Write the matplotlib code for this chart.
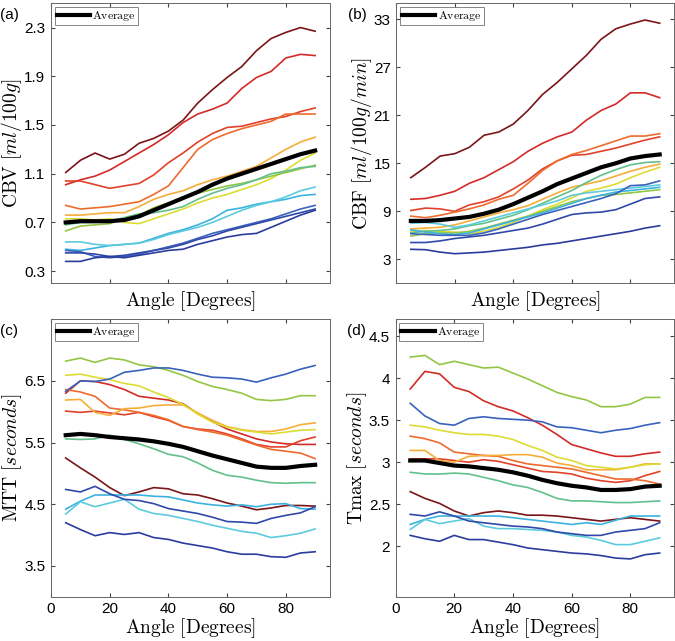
import numpy as np
import matplotlib
matplotlib.use("Agg")
import matplotlib.pyplot as plt

plt.rcParams["mathtext.fontset"] = "cm"
plt.rcParams["font.family"] = ["Liberation Sans", "DejaVu Sans"]

angles = np.arange(5, 95, 5)

subjects = ["darkred", "redA", "redB", "orangered", "orange", "yellow", "green",
            "mint", "cyan", "lightcyan", "blue1", "blue2", "blue3"]
colors = ["#7a1518", "#d22b28", "#e2412a", "#ee6b2e", "#f6ad3a", "#dcdc34", "#94c644",
          "#62c08c", "#3cb2e0", "#5ccbde", "#3a62bc", "#3049a8", "#2b3c9c"]

# CBV [ml/100g]
cbv = {
    "darkred":   [1.11, 1.21, 1.27, 1.22, 1.26, 1.35, 1.39, 1.45, 1.54, 1.68, 1.79, 1.89, 1.98, 2.11, 2.21, 2.26, 2.30, 2.27],
    "redA":      [1.01, 1.05, 1.08, 1.13, 1.20, 1.27, 1.34, 1.42, 1.52, 1.59, 1.63, 1.68, 1.80, 1.89, 1.94, 2.05, 2.08, 2.07],
    "redB":      [1.04, 1.04, 1.01, 0.98, 1.00, 1.02, 1.09, 1.19, 1.27, 1.36, 1.43, 1.48, 1.49, 1.52, 1.55, 1.57, 1.61, 1.64],
    "orangered": [0.84, 0.81, 0.82, 0.83, 0.85, 0.87, 0.93, 1.00, 1.15, 1.30, 1.38, 1.43, 1.47, 1.50, 1.53, 1.59, 1.59, 1.59],
    "orange":    [0.76, 0.76, 0.77, 0.78, 0.78, 0.83, 0.89, 0.93, 0.96, 1.01, 1.05, 1.08, 1.12, 1.16, 1.23, 1.30, 1.36, 1.40],
    "yellow":    [0.73, 0.73, 0.72, 0.73, 0.70, 0.69, 0.73, 0.77, 0.81, 0.86, 0.90, 0.93, 0.97, 1.01, 1.06, 1.13, 1.21, 1.27],
    "green":     [0.63, 0.67, 0.68, 0.69, 0.73, 0.76, 0.82, 0.86, 0.90, 0.94, 0.97, 1.00, 1.02, 1.05, 1.08, 1.11, 1.14, 1.17],
    "mint":      [0.68, 0.70, 0.70, 0.71, 0.74, 0.77, 0.78, 0.80, 0.83, 0.89, 0.94, 0.98, 1.01, 1.05, 1.10, 1.12, 1.15, 1.16],
    "cyan":      [0.48, 0.47, 0.49, 0.51, 0.52, 0.53, 0.57, 0.61, 0.64, 0.68, 0.73, 0.80, 0.82, 0.85, 0.87, 0.89, 0.92, 0.93],
    "lightcyan": [0.54, 0.54, 0.52, 0.51, 0.52, 0.53, 0.56, 0.60, 0.63, 0.66, 0.70, 0.75, 0.80, 0.84, 0.87, 0.91, 0.96, 0.99],
    "blue1":     [0.47, 0.46, 0.42, 0.41, 0.42, 0.44, 0.47, 0.50, 0.53, 0.57, 0.61, 0.64, 0.67, 0.70, 0.73, 0.77, 0.81, 0.84],
    "blue2":     [0.45, 0.45, 0.44, 0.42, 0.43, 0.45, 0.47, 0.49, 0.52, 0.56, 0.59, 0.63, 0.66, 0.69, 0.72, 0.75, 0.78, 0.81],
    "blue3":     [0.38, 0.38, 0.41, 0.42, 0.41, 0.43, 0.45, 0.47, 0.48, 0.52, 0.55, 0.58, 0.60, 0.61, 0.66, 0.71, 0.76, 0.80],
}
cbv_avg = [0.70, 0.71, 0.71, 0.71, 0.72, 0.75, 0.80, 0.85, 0.90, 0.95, 1.01, 1.06, 1.10, 1.14, 1.18, 1.22, 1.26, 1.29]

# CBF [ml/100g/min]
cbf = {
    "darkred":   [13.2, 14.5, 15.9, 16.2, 17.0, 18.5, 18.9, 19.9, 21.6, 23.6, 25.1, 26.8, 28.5, 30.5, 31.8, 32.4, 32.9, 32.5],
    "redA":      [10.5, 10.6, 11.0, 11.5, 12.5, 13.2, 14.2, 15.2, 16.5, 17.5, 18.3, 18.9, 20.4, 21.6, 22.4, 23.8, 23.8, 23.2],
    "redB":      [9.1, 9.4, 9.3, 9.0, 9.8, 10.2, 10.8, 11.8, 12.9, 14.3, 15.3, 16.0, 16.1, 16.5, 16.9, 17.4, 17.9, 18.3],
    "orangered": [8.4, 8.2, 8.5, 8.9, 9.3, 9.8, 10.5, 11.0, 12.5, 14.1, 15.3, 16.1, 16.6, 17.2, 17.8, 18.4, 18.4, 18.7],
    "orange":    [6.8, 6.9, 7.0, 7.3, 7.8, 8.3, 8.8, 9.2, 9.7, 10.5, 11.3, 12.0, 12.4, 12.8, 13.4, 14.0, 14.5, 14.9],
    "yellow":    [6.5, 6.6, 6.5, 6.4, 6.2, 6.5, 7.0, 7.6, 8.4, 9.2, 9.9, 10.7, 11.5, 11.9, 12.4, 13.2, 13.9, 14.5],
    "green":     [5.9, 6.2, 6.3, 6.3, 6.5, 6.9, 7.4, 7.9, 8.4, 9.0, 9.6, 10.2, 10.6, 11.0, 11.1, 11.3, 11.5, 11.7],
    "mint":      [6.3, 6.5, 6.6, 6.8, 7.2, 7.5, 8.0, 8.5, 9.2, 10.0, 10.8, 11.6, 12.6, 13.5, 14.2, 14.8, 15.1, 15.2],
    "cyan":      [6.7, 6.4, 6.2, 6.1, 6.3, 6.8, 7.3, 7.8, 8.3, 8.8, 9.4, 10.0, 10.6, 11.0, 11.4, 11.6, 11.8, 12.0],
    "lightcyan": [7.5, 7.6, 7.4, 7.0, 7.3, 7.8, 8.3, 8.8, 9.3, 9.8, 10.3, 11.0, 11.3, 11.5, 11.7, 11.9, 12.1, 12.3],
    "blue1":     [6.2, 6.1, 6.0, 6.0, 6.0, 6.3, 6.8, 7.4, 8.0, 8.6, 9.1, 9.6, 10.1, 10.6, 11.2, 12.2, 12.3, 12.8],
    "blue2":     [5.1, 5.1, 5.3, 5.6, 5.8, 6.0, 6.3, 6.6, 6.9, 7.4, 8.0, 8.6, 8.8, 8.9, 9.2, 9.9, 10.6, 10.8],
    "blue3":     [4.25, 4.2, 3.9, 3.7, 3.8, 3.9, 4.1, 4.3, 4.5, 4.8, 5.0, 5.3, 5.6, 5.9, 6.2, 6.5, 6.9, 7.2],
}
cbf_avg = [7.8, 7.8, 7.9, 8.1, 8.3, 8.7, 9.2, 9.9, 10.7, 11.5, 12.4, 13.1, 13.8, 14.5, 15.0, 15.6, 15.9, 16.1]

# MTT [seconds]
mtt = {
    "darkred":   [5.25, 5.09, 4.94, 4.77, 4.64, 4.70, 4.77, 4.75, 4.67, 4.65, 4.59, 4.52, 4.47, 4.41, 4.44, 4.48, 4.48, 4.47],
    "redA":      [6.30, 6.50, 6.49, 6.44, 6.36, 6.25, 6.22, 6.19, 6.13, 5.97, 5.84, 5.72, 5.64, 5.56, 5.51, 5.48, 5.47, 5.47],
    "redB":      [6.01, 5.99, 6.01, 5.98, 5.95, 5.99, 5.92, 5.86, 5.76, 5.72, 5.70, 5.64, 5.56, 5.47, 5.43, 5.43, 5.53, 5.59],
    "orangered": [6.36, 6.32, 6.25, 6.06, 6.03, 5.99, 5.94, 5.87, 5.76, 5.71, 5.67, 5.62, 5.54, 5.46, 5.39, 5.36, 5.33, 5.24],
    "orange":    [6.19, 6.20, 5.99, 5.94, 6.05, 6.06, 6.10, 6.11, 6.11, 5.98, 5.86, 5.76, 5.71, 5.68, 5.68, 5.72, 5.79, 5.82],
    "yellow":    [6.59, 6.61, 6.56, 6.52, 6.46, 6.42, 6.32, 6.23, 6.12, 5.96, 5.83, 5.75, 5.70, 5.67, 5.64, 5.67, 5.70, 5.71],
    "green":     [6.82, 6.87, 6.80, 6.87, 6.84, 6.76, 6.73, 6.67, 6.59, 6.49, 6.41, 6.36, 6.30, 6.20, 6.18, 6.20, 6.26, 6.26],
    "mint":      [5.56, 5.55, 5.56, 5.62, 5.55, 5.48, 5.40, 5.31, 5.27, 5.17, 5.05, 4.97, 4.94, 4.89, 4.85, 4.84, 4.85, 4.85],
    "cyan":      [4.42, 4.55, 4.65, 4.65, 4.65, 4.65, 4.63, 4.62, 4.57, 4.52, 4.49, 4.47, 4.49, 4.46, 4.50, 4.51, 4.43, 4.42],
    "lightcyan": [4.34, 4.54, 4.46, 4.52, 4.58, 4.42, 4.35, 4.32, 4.27, 4.22, 4.16, 4.11, 4.06, 4.03, 3.96, 3.99, 4.03, 4.10],
    "blue1":     [6.33, 6.50, 6.49, 6.53, 6.64, 6.67, 6.71, 6.71, 6.67, 6.61, 6.56, 6.55, 6.53, 6.48, 6.55, 6.61, 6.69, 6.75],
    "blue2":     [4.74, 4.70, 4.79, 4.67, 4.58, 4.56, 4.51, 4.43, 4.39, 4.35, 4.29, 4.22, 4.21, 4.19, 4.27, 4.32, 4.36, 4.46],
    "blue3":     [4.20, 4.09, 3.99, 4.04, 4.01, 4.04, 3.96, 3.93, 3.87, 3.83, 3.79, 3.73, 3.69, 3.69, 3.65, 3.64, 3.71, 3.73],
}
mtt_avg = [5.62, 5.64, 5.62, 5.59, 5.57, 5.55, 5.52, 5.48, 5.43, 5.36, 5.29, 5.23, 5.17, 5.11, 5.09, 5.09, 5.12, 5.14]

# Tmax [seconds]
tmax = {
    "darkred":   [2.65, 2.57, 2.51, 2.42, 2.36, 2.40, 2.42, 2.40, 2.37, 2.37, 2.36, 2.34, 2.32, 2.30, 2.32, 2.34, 2.32, 2.30],
    "redA":      [3.87, 4.08, 4.05, 3.89, 3.84, 3.73, 3.66, 3.61, 3.53, 3.44, 3.33, 3.21, 3.16, 3.11, 3.07, 3.07, 3.10, 3.12],
    "redB":      [3.04, 3.04, 3.04, 3.02, 3.00, 3.03, 3.01, 2.97, 2.93, 2.89, 2.88, 2.86, 2.81, 2.78, 2.76, 2.78, 2.84, 2.89],
    "orangered": [3.31, 3.28, 3.23, 3.12, 3.10, 3.08, 3.07, 3.02, 2.98, 2.96, 2.94, 2.92, 2.88, 2.84, 2.80, 2.80, 2.78, 2.74],
    "orange":    [3.14, 3.14, 3.02, 3.00, 3.07, 3.08, 3.08, 3.09, 3.09, 3.06, 2.99, 2.96, 2.91, 2.91, 2.91, 2.94, 2.98, 2.98],
    "yellow":    [3.44, 3.42, 3.38, 3.35, 3.33, 3.33, 3.31, 3.27, 3.20, 3.14, 3.06, 3.02, 2.96, 2.94, 2.92, 2.94, 2.97, 2.98],
    "green":     [4.25, 4.27, 4.16, 4.20, 4.16, 4.12, 4.13, 4.06, 3.99, 3.91, 3.83, 3.78, 3.74, 3.66, 3.66, 3.69, 3.77, 3.77],
    "mint":      [2.88, 2.86, 2.86, 2.87, 2.86, 2.82, 2.78, 2.73, 2.70, 2.64, 2.57, 2.54, 2.54, 2.53, 2.52, 2.52, 2.53, 2.54],
    "cyan":      [2.26, 2.32, 2.36, 2.36, 2.36, 2.36, 2.36, 2.34, 2.32, 2.30, 2.28, 2.26, 2.28, 2.26, 2.31, 2.36, 2.36, 2.36],
    "lightcyan": [2.20, 2.32, 2.27, 2.30, 2.33, 2.24, 2.21, 2.21, 2.20, 2.19, 2.17, 2.13, 2.11, 2.07, 2.02, 2.02, 2.06, 2.10],
    "blue1":     [3.70, 3.55, 3.46, 3.44, 3.52, 3.54, 3.52, 3.51, 3.50, 3.48, 3.42, 3.41, 3.38, 3.35, 3.38, 3.40, 3.44, 3.47],
    "blue2":     [2.38, 2.36, 2.41, 2.36, 2.30, 2.28, 2.26, 2.24, 2.23, 2.21, 2.17, 2.15, 2.13, 2.13, 2.17, 2.19, 2.21, 2.28],
    "blue3":     [2.13, 2.09, 2.06, 2.13, 2.08, 2.08, 2.05, 2.02, 1.98, 1.96, 1.94, 1.92, 1.91, 1.89, 1.86, 1.85, 1.90, 1.92],
}
tmax_avg = [3.02, 3.02, 2.99, 2.96, 2.95, 2.93, 2.91, 2.88, 2.84, 2.79, 2.75, 2.72, 2.70, 2.67, 2.67, 2.68, 2.71, 2.72]

panels = [
    ("(a)", cbv, cbv_avg, r"$\mathrm{CBV}\ [ml/100g]$", (0.2, 2.5), np.arange(0.3, 2.31, 0.4), "%.1f"),
    ("(b)", cbf, cbf_avg, r"$\mathrm{CBF}\ [ml/100g/min]$", (0, 35), np.arange(3, 34, 6), "%d"),
    ("(c)", mtt, mtt_avg, r"$\mathrm{MTT}\ [seconds]$", (3.0, 7.5), np.arange(3.5, 6.6, 1.0), "%.1f"),
    ("(d)", tmax, tmax_avg, r"$\mathrm{Tmax}\ [seconds]$", (1.4, 4.7), np.arange(2.0, 4.51, 0.5), "%g"),
]

rects = [
    [0.0756, 0.558, 0.413, 0.437],
    [0.587, 0.558, 0.412, 0.437],
    [0.0756, 0.069, 0.413, 0.433],
    [0.586, 0.069, 0.413, 0.433],
]

fig = plt.figure(figsize=(6.75, 6.41), dpi=100)

for i, (tag, data, avg, ylab, ylim, yticks, fmt) in enumerate(panels):
    ax = fig.add_axes(rects[i])
    for name, c in zip(subjects, colors):
        ax.plot(angles, data[name], color=c, lw=1.2)
    ax.plot(angles, avg, color="black", lw=3.0, label=r"$\mathrm{Average}$")

    ax.set_xlim(0, 95)
    ax.set_ylim(*ylim)
    ax.set_xticks([0, 20, 40, 60, 80])
    ax.set_yticks(yticks)
    ax.set_yticklabels([fmt % v for v in yticks])
    if i < 2:
        ax.tick_params(labelbottom=False)
    ax.tick_params(direction="in", top=True, right=True, length=3,
                   labelsize=11, color="#444444", pad=4)
    for sp in ax.spines.values():
        sp.set_color("#666666")
        sp.set_linewidth(0.7)
    ax.set_xlabel(r"$\mathrm{Angle\ [Degrees]}$", fontsize=14, labelpad=0 if i >= 2 else 4)
    ax.set_ylabel(ylab, fontsize=14, labelpad=0)

    leg = ax.legend(loc="upper left", fontsize=8.5, handlelength=2.8, frameon=True,
                    fancybox=False, borderpad=0.2, borderaxespad=0.3,
                    handletextpad=0.2)
    leg.get_frame().set_edgecolor("#666666")
    leg.get_frame().set_linewidth(0.7)

    fig.text(rects[i][0] - 0.075 if i % 2 == 0 else rects[i][0] - 0.072,
             rects[i][1] + rects[i][3] - 0.018, tag, fontsize=11, ha="left", va="center")

fig.savefig("out.png", dpi=100)
